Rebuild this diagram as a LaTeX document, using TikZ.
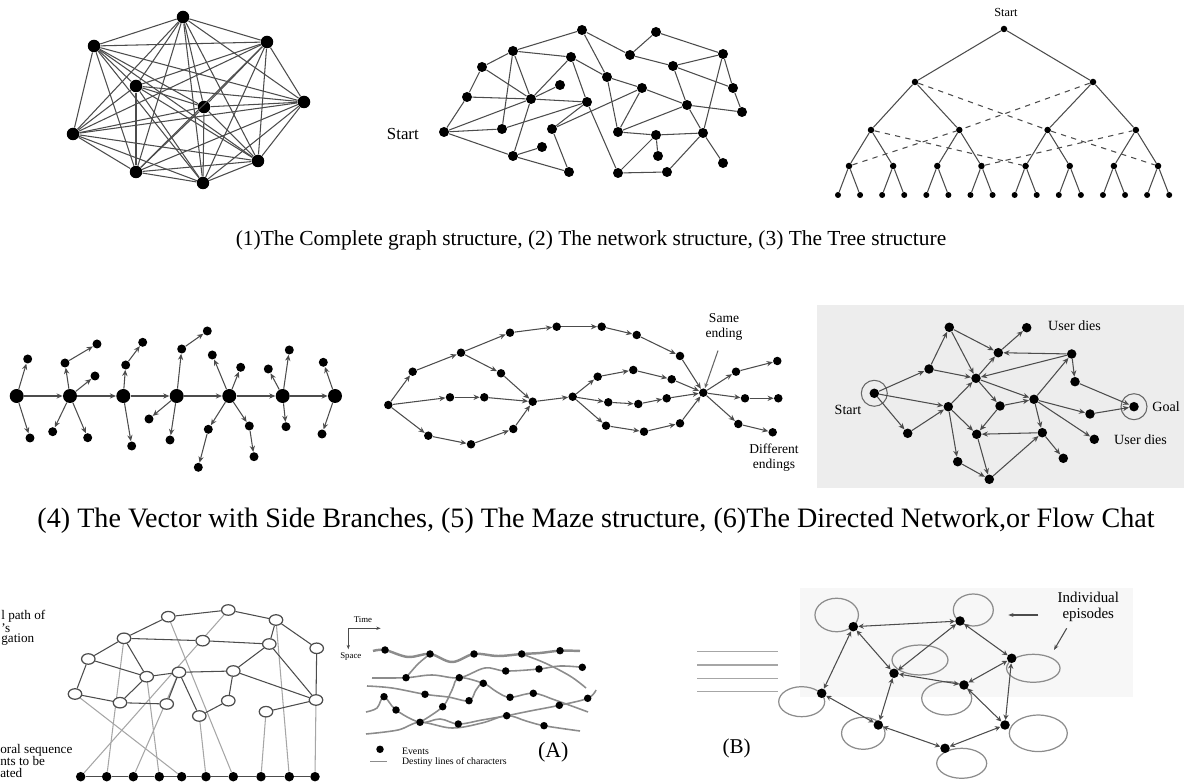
\documentclass[tikz,border=0pt]{standalone}
\usepackage{fontspec}
\setmainfont{Liberation Serif}
\usetikzlibrary{arrows.meta, shapes.geometric}

\tikzset{
  dot/.style={circle, fill=black, inner sep=0pt, minimum size=#1},
  dot/.default=0.2cm,
  hollow/.style={ellipse, draw=black!70, fill=white, line width=0.7pt, inner sep=0pt, minimum width=0.27cm, minimum height=0.21cm},
  link/.style={draw=black!70, line width=0.6pt},
  faint/.style={draw=black!35, line width=0.6pt},
  arr/.style={link, -{Stealth[length=3.5pt, width=3pt]}},
  arrb/.style={link, {Stealth[length=3pt, width=3pt]}-{Stealth[length=3pt, width=3pt]}},
  episode/.style={ellipse, draw=black!45, line width=0.7pt, inner sep=0pt},
  destiny/.style={draw=black!45, line width=0.9pt},
  capline/.style={font=\fontsize{#1}{#1}\selectfont, inner sep=0pt},
}

\begin{document}
\begin{tikzpicture}[x=0.02cm, y=-0.02cm]
    \useasboundingbox (0,0) rectangle (1184,783);

    % (1) Complete graph
    \foreach \n/\x/\y in {1/183/17, 2/94/46, 3/267/42, 4/136/86, 5/204/107, 6/304/102, 7/73/134, 8/258/161, 9/136/172, 10/203/183}
        \node[dot=0.25cm] (cg\n) at (\x,\y) {};
    \foreach \i in {1,...,9} {
        \pgfmathtruncatemacro\k{\i+1}
        \foreach \j in {\k,...,10}
            \draw[link] (cg\i) -- (cg\j);
    }

    % (2) Network
    \foreach \n/\x/\y in {st/444/132, b/467/97, c/482/67, d/513/51, e/582/30, f/656/32, g/630/55, h/571/57, i/607/77, j/560/85, k/531/99, l/587/102, m/502/129, n/552/129, o/542/147, p/513/156, q/569/172, r/618/132, s/642/88, t/673/66, u/723/54, v/733/88, w/687/105, x/742/112, y/703/133, z/656/135, A/658/156, B/618/173, C/667/172, D/723/163}
        \node[dot=0.2cm] (nw\n) at (\x,\y) {};
    \foreach \a/\b in {st/b, st/k, st/m, st/p, m/l, b/c, b/k, c/d, c/k, d/e, d/h, d/m, d/k, k/p, k/h, k/j, k/l, h/i, h/l, l/n, l/B, n/q, n/s, p/o, p/q, e/g, e/i, g/f, f/u, g/t, i/r, i/s, r/s, r/z, r/w, z/A, z/B, B/C, C/y, y/z, y/w, w/x, y/u, y/D, t/u, t/w, t/v, u/v, v/x, s/w}
        \draw[link] (nw\a) -- (nw\b);
    \node[font=\fontsize{9.6}{10}\selectfont, anchor=east] (nwlabel) at (425,134) {Start};

    % (3) Tree
    \node[dot=0.13cm] (t0) at (1004,29) {};
    \node[font=\fontsize{7}{8}\selectfont] (tlabel) at (1006,12) {Start};
    \foreach \i/\x in {1/915, 2/1093} {
        \node[dot=0.13cm] (ta\i) at (\x,82) {};
        \draw[link] (t0) -- (ta\i);
    }
    \foreach \i in {1,...,4} {
        \pgfmathtruncatemacro\p{(\i+1)/2}
        \node[dot=0.13cm] (tb\i) at ({871+(\i-1)*88.3},130) {};
        \draw[link] (ta\p) -- (tb\i);
    }
    \foreach \i in {1,...,8} {
        \pgfmathtruncatemacro\p{(\i+1)/2}
        \node[dot=0.13cm] (tc\i) at ({849+(\i-1)*44.15},166) {};
        \draw[link] (tb\p) -- (tc\i);
    }
    \foreach \i in {1,...,16} {
        \pgfmathtruncatemacro\p{(\i+1)/2}
        \node[dot=0.12cm] (td\i) at ({838+(\i-1)*22.08},195) {};
        \draw[link] (tc\p) -- (td\i);
    }
    \foreach \a/\b in {ta1/tb3, ta2/tb2, tb1/tc5, tc1/tb2, tc4/tb4, tb3/tc8}
        \draw[link, dashed] (\a) -- (\b);

    % Caption row 1
    \node[capline=12.2] (cap1) at (591,240) {(1)The Complete graph structure, (2) The network structure, (3) The Tree structure};

    % (4) Vector with side branches
    \foreach \i/\x in {1/16.7, 2/70, 3/123.3, 4/176.7, 5/229.3, 6/282.7, 7/335}
        \node[dot=0.28cm] (vs\i) at (\x,396) {};
    \foreach \i in {1,...,6} {
        \pgfmathtruncatemacro\j{\i+1}
        \draw[arr] (vs\i) -- (vs\j);
    }
    \foreach \n/\x/\y/\p in {b11/27.7/359/vs1, b12/30/438/vs1,
        b21/65/363/vs2, b22/97/344/b21, b23/95/376/vs2, b24/52.7/431.7/vs2, b25/87.7/437.7/vs2,
        b31/125.7/365/vs3, b32/142.7/342.3/b31, b33/131.7/446/vs3,
        b41/181.7/349/vs4, b42/207.3/331/b41, b43/149/419/vs4, b44/170/440/vs4,
        b51/212.3/355/vs5, b52/240.7/367.3/vs5, b53/208.3/429.3/vs5, b54/198.3/467.3/b53, b55/249.3/426/vs5, b56/254/456.7/b55,
        b61/268.3/369/vs6, b62/289.3/350/vs6, b63/286/426.7/vs6,
        b71/323.3/362.3/vs7, b72/322/434/vs7} {
        \node[dot=0.18cm] (\n) at (\x,\y) {};
        \draw[arr] (\p) -- (\n);
    }

    % (5) Maze
    \foreach \n/\x/\y in {0/388.3/405, u1/412.7/371.7, u2/461/352.7, u3/510/332.7, u4/556.7/326.7, u5/601.7/326.7, u6/636.7/335, u7/680/356, r/501/373.3, m1/450/397.3, m2/484.3/397.3, l1/428.3/435.7, l2/471/444.3, l3/513.3/429, j1/532.7/401.7, j2/572.7/396.7, a1/597.7/376.7, a2/633.3/370, a3/671.7/379.3, b1/608.3/402.3, b2/638.3/404, b3/666.7/398.3, c1/606/425.7, c2/644/431.7, c3/680/423.3, e/703.3/392.7, x1/736/371.7, x2/777.3/361, y1/745/398.3, y2/778.3/398.3, z1/738.3/424, z2/772.7/432.3}
        \node[dot=0.17cm] (mz\n) at (\x,\y) {};
    \foreach \a/\b in {0/u1, u1/u2, u2/u3, u3/u4, u4/u5, u5/u6, u6/u7, u7/e, u2/r, r/j1, 0/m1, m1/m2, m2/j1, 0/l1, l1/l2, l2/l3, l3/j1, j1/j2, j2/a1, a1/a2, a2/a3, a3/e, j2/b1, b1/b2, b2/b3, b3/e, j2/c1, c1/c2, c2/c3, c3/e, e/x1, x1/x2, e/y1, y1/y2, e/z1, z1/z2}
        \draw[arr] (mz\a) -- (mz\b);
    \node[font=\fontsize{7.7}{8.5}\selectfont, align=center] (mzsame) at (724,327) {Same\\ending};
    \draw[faint, draw=black!60, -{Stealth[length=3pt]}] (mzsame.south) ++(-6,4) -- (mze);
    \node[font=\fontsize{7.7}{8.5}\selectfont, align=center] (mzdiff) at (774,458) {Different\\endings};

    % (6) Directed network
    \fill[black!7] (817,305) rectangle (1184,488);
    \foreach \n/\x/\y in {st/874.3/393.3, a/929/369, b/949.3/327.3, c/998.3/352.7, d/1026.7/327.7, e/1071.7/354, X/976/378.3, f/948.3/406.7, g/1000/406, h/1034/399.3, i/1075/381.7, goal/1134/406.7, j/1090/414, k/1094.3/439.3, l/907.7/433.3, m/976.7/434.3, n/1042.3/432.7, o/1063.3/458.3, p/957.7/461.7, q/989.3/479.3}
        \node[dot=0.19cm] (df\n) at (\x,\y) {};
    \node[circle, draw=black!60, line width=0.6pt, minimum size=0.52cm] (dfring1) at (dfst) {};
    \node[circle, draw=black!60, line width=0.6pt, minimum size=0.52cm] (dfring2) at (dfgoal) {};
    \foreach \a/\b in {st/a, st/f, st/l, l/f, a/b, a/X, b/X, b/c, c/d, e/c, e/X, X/c, f/X, X/g, X/h, e/i, i/goal, h/e, g/h, h/j, j/goal, h/k, g/m, f/m, f/p, n/m, h/n, n/o, m/q, p/q, q/n}
        \draw[arr] (df\a) -- (df\b);
    \node[font=\fontsize{8}{9}\selectfont] (dfstart) at (848,410) {Start};
    \node[font=\fontsize{8}{9}\selectfont, anchor=west, inner sep=0pt] (dfgoallabel) at (1152,406.7) {Goal};
    \node[font=\fontsize{8}{9}\selectfont, anchor=west] (dfdies1) at (1042,326) {User dies};
    \node[font=\fontsize{8}{9}\selectfont, anchor=west] (dfdies2) at (1108,440) {User dies};

    % Caption row 2
    \node[capline=16] (cap2) at (596,521) {(4) The Vector with Side Branches, (5) The Maze structure, (6)The Directed Network,or Flow Chat};

    % Navigation path against sequence of events
    \foreach \n/\x/\y in {1/80.7, 2/106.7, 3/133.3, 4/159.3, 5/181.7, 6/206, 7/233.3, 8/261, 9/289.3, 10/315}
        \node[dot=0.19cm] (sq\n) at (\x,776.7) {};
    \foreach \i in {1,...,9} {
        \pgfmathtruncatemacro\j{\i+1}
        \draw[link, line width=0.9pt] (sq\i) -- (sq\j);
    }
    \foreach \n/\x/\y in {A/168.3/616.7, B/228.3/610, C/276/620, D/124/638.3, E/202.7/640.7, F/269.3/644, G/316.7/648.3, H/88.3/659, I/146.7/676.7, J/179/672.3, K/233.3/671, L/75/694, M/120/702.7, N/166.7/704, O/199.3/716, P/228.3/700.7, Q/266/711.7, R/316/700}
        \coordinate (hc\n) at (\x,\y);
    \foreach \a/\b in {B/1, D/2, J/3, I/4, L/5, O/6, A/7, Q/8, C/9, R/10}
        \draw[faint] (hc\a) -- (sq\b);
    \foreach \n in {A,...,R}
        \node[hollow] (hn\n) at (hc\n) {};
    \foreach \a/\b in {H/D, D/A, A/B, B/C, C/G, G/R, H/I, D/E, D/I, E/F, C/F, H/L, L/M, M/N, I/M, I/J, J/K, N/J, J/O, O/P, P/K, K/F, F/R, K/R, Q/R}
        \draw[link] (hn\a) -- (hn\b);
    \node[font=\fontsize{7.5}{8}\selectfont, anchor=west, inner sep=0pt] (hnt1) at (1,616) {l path of};
    \node[font=\fontsize{7.5}{8}\selectfont, anchor=west, inner sep=0pt] (hnt2) at (1,628) {’s};
    \node[font=\fontsize{7.5}{8}\selectfont, anchor=west, inner sep=0pt] (hnt3) at (1,640) {gation};
    \node[font=\fontsize{7.5}{8}\selectfont, anchor=west, inner sep=0pt] (hnt4) at (0,750) {oral sequence};
    \node[font=\fontsize{7.5}{8}\selectfont, anchor=west, inner sep=0pt] (hnt5) at (0,761) {nts to be};
    \node[font=\fontsize{7.5}{8}\selectfont, anchor=west, inner sep=0pt] (hnt6) at (0,773) {ated};

    % (A) Events and destiny lines
    \coordinate (axo) at (348.3,628.3);
    \coordinate (axt) at (380.7,628.3);
    \coordinate (axs) at (348.3,649.3);
    \draw[link, line width=0.5pt, -{Stealth[length=2.5pt]}] (axo) -- (axt);
    \draw[link, line width=0.5pt, -{Stealth[length=2.5pt]}] (axo) -- (axs);
    \node[font=\fontsize{5}{6}\selectfont] (axtime) at (363,620) {Time};
    \node[font=\fontsize{5}{6}\selectfont, anchor=west, inner sep=0pt] (axspace) at (340,657) {Space};
    \foreach \n/\x/\y in {1/385/650, 2/430/654, 3/474/654, 4/521.7/654, 5/560/650.7, 6/582.3/667.3, 7/406/677.7, 8/459.3/677.7, 9/505.7/671, 10/539/669, 11/483.3/683.3, 12/384/696.7, 13/425/694.3, 14/469/700.7, 15/510/697.3, 16/533.3/693.3, 17/587.7/698.3, 18/559.3/705.3, 19/396/710, 20/442.7/706.7, 21/420/722.3, 22/458.3/724, 23/506.7/715.7, 24/544/725.7}
        \coordinate (ec\n) at (\x,\y);
    \draw[destiny, line width=1.4pt] plot[smooth, tension=0.6] coordinates {(373,651) (ec1) (408,657) (ec2) (452,662) (ec3) (498,656) (ec4) (540,653) (ec5) (580,651)};
    \draw[destiny] plot[smooth, tension=0.6] coordinates {(372,678) (ec7) (432,675) (ec8) (485,668) (ec9) (ec10) (560,666) (ec6)};
    \draw[destiny] plot[smooth, tension=0.6] coordinates {(367,686) (392,688) (ec13) (448,697) (ec14) (476,690) (ec11) (497,692) (ec15) (ec16) (555,700) (588,712)};
    \draw[destiny] plot[smooth, tension=0.6] coordinates {(366,712) (377,708) (ec12) (ec19) (ec21) (440,719) (ec22) (482,720) (ec23) (530,711) (ec18) (ec17) (596,690)};
    \draw[destiny] plot[smooth, tension=0.6] coordinates {(366,734) (398,730) (ec21) (452,728) (482,723) (ec23) (526,721) (ec24) (580,731)};
    \draw[destiny] plot[smooth, tension=0.6] coordinates {(ec2) (418,664) (ec7)};
    \draw[destiny] plot[smooth, tension=0.6] coordinates {(ec21) (ec20) (452,690) (ec8) (ec11)};
    \draw[destiny] plot[smooth, tension=0.6] coordinates {(ec4) (545,663) (570,676) (586,688)};
    \foreach \n in {1,...,24}
        \node[dot=0.15cm] (ev\n) at (ec\n) {};
    \node[dot=0.15cm] (evkey) at (380,749.3) {};
    \coordinate (dlk1) at (370,761.7);
    \coordinate (dlk2) at (387,761.7);
    \draw[destiny] (dlk1) -- (dlk2);
    \node[font=\fontsize{5.6}{6}\selectfont, anchor=west, inner sep=0pt] (evtext) at (401.7,751) {Events};
    \node[font=\fontsize{5.6}{6}\selectfont, anchor=west, inner sep=0pt] (dltext) at (401.7,761.7) {Destiny lines of characters};
    \node[font=\fontsize{12.5}{13}\selectfont] (alabel) at (553.3,752.7) {(A)};

    % (B) Episodes
    \fill[black!3] (800,588) rectangle (1133,697);
    \foreach \y in {651.7, 665, 678.3, 691.7}
        \draw[faint, line width=0.9pt] (697,\y) -- (778,\y);
    \node[font=\fontsize{12}{13}\selectfont] (blabel) at (736.7,748.3) {(B)};
    \foreach \n/\x/\y/\w/\h in {1/836.7/615/0.87/0.67, 2/973.3/610/0.8/0.64, 3/920/660/1.12/0.6, 4/1033.3/668.3/1.07/0.56, 5/946.7/698.3/1.0/0.67, 6/801.7/701.7/0.92/0.6, 7/863.3/733.3/0.87/0.64, 8/1038.3/733.3/1.16/0.73, 9/961.7/763.3/1.0/0.6}
        \node[episode, minimum width=\w cm, minimum height=\h cm] (ep\n) at (\x,\y) {};
    \foreach \n/\x/\y in {1/853.3/626.7, 2/960/621, 3/1011.7/658.3, 4/894/673.3, 5/964/685, 6/821.7/693.3, 7/878.3/725, 8/1005/725, 9/945/748.3}
        \node[dot=0.19cm] (bn\n) at (\x,\y) {};
    \foreach \a/\b in {1/2, 1/4, 1/6, 2/4, 2/3, 3/5, 4/5, 4/7, 6/7, 7/9, 9/8, 8/5, 8/3}
        \draw[arrb] (bn\a) -- (bn\b);
    \node[font=\fontsize{8.5}{9.5}\selectfont, align=center] (eplabel) at (1088.3,607) {Individual\\episodes};
    \coordinate (epa1) at (1038.3,615);
    \coordinate (epa2) at (1008.3,615);
    \coordinate (epb1) at (1066.7,628.3);
    \coordinate (epb2) at (1054,650);
    \draw[link, -{Stealth[length=3pt]}] (epa1) -- (epa2);
    \draw[link, -{Stealth[length=3pt]}] (epb1) -- (epb2);

\end{tikzpicture}
\end{document}
